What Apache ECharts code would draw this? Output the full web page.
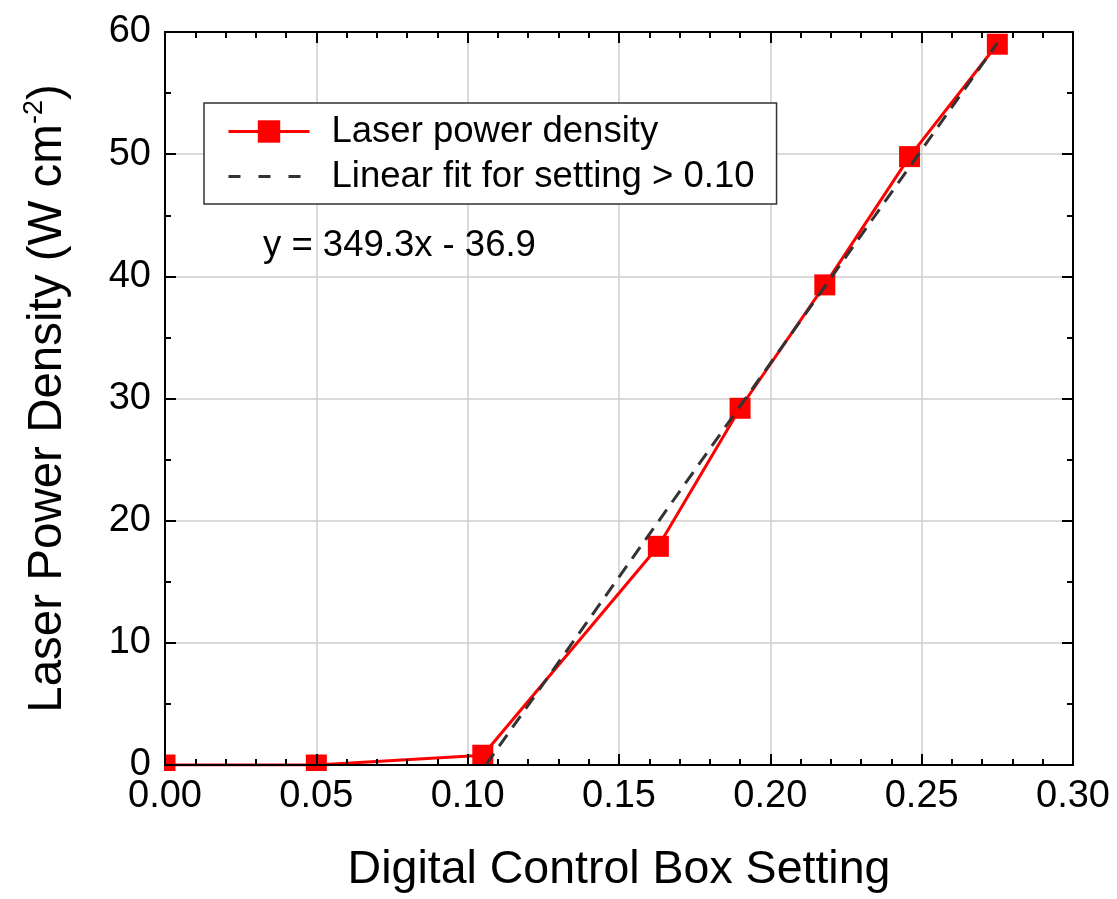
<!DOCTYPE html>
<html>
<head>
<meta charset="utf-8">
<script src="https://cdn.jsdelivr.net/npm/echarts@6/dist/echarts.min.js"></script>
<style>
html,body{margin:0;padding:0;background:#fff;}
#chart{width:1117px;height:899px;}
</style>
</head>
<body>
<div id="chart"></div>
<script>
// ---- data ----
const settingX = [0.000, 0.050, 0.105, 0.163, 0.190, 0.218, 0.246, 0.275];
const powerY   = [0.0,   0.0,   0.8,   17.9,  29.2,  39.3,  49.8,  59.0];
const fitX = [0.106, 0.275];
const fitY = [0.0, 59.1];
const xTicks = { min: 0, max: 0.30, interval: 0.05 };
const yTicks = { min: 0, max: 60, interval: 10 };
const seriesNames = ['Laser power density', 'Linear fit for setting > 0.10'];
const equationText = 'y = 349.3x - 36.9';

const FONT = '"Liberation Sans", Arial, sans-serif';
const chart = echarts.init(document.getElementById('chart'), null, { renderer: 'canvas' });

const tickCommon = {
  axisTick: { show: true, inside: true, length: 11, lineStyle: { color: '#000', width: 2 } },
  minorTick: { show: true, length: 6, lineStyle: { color: '#000', width: 2 } },
  axisLine: { show: true, onZero: false, lineStyle: { color: '#000', width: 2 } }
};

const option = {
  animation: false,
  backgroundColor: '#fff',
  grid: { left: 165, right: 44, top: 32, bottom: 130, containLabel: false },
  xAxis: [
    Object.assign({
      type: 'value', position: 'bottom', z: 10,
      min: xTicks.min, max: xTicks.max, interval: xTicks.interval,
      name: 'Digital Control Box Setting', nameLocation: 'middle', nameGap: 82,
      nameTextStyle: { fontFamily: FONT, fontSize: 46.5, color: '#000' },
      axisLabel: { fontFamily: FONT, fontSize: 38, color: '#000', margin: 13,
        formatter: v => v.toFixed(2) },
      splitLine: { show: false }
    }, tickCommon, { minorTick: Object.assign({}, tickCommon.minorTick, { splitNumber: 5 }) }),
    Object.assign({
      type: 'value', position: 'top',
      min: xTicks.min, max: xTicks.max, interval: xTicks.interval,
      axisLabel: { show: false },
      splitLine: { show: true, lineStyle: { color: '#cfcfcf', width: 1.5 } }
    }, tickCommon, { minorTick: Object.assign({}, tickCommon.minorTick, { splitNumber: 5 }) })
  ],
  yAxis: [
    Object.assign({
      type: 'value', position: 'left', z: 10,
      min: yTicks.min, max: yTicks.max, interval: yTicks.interval,
      name: 'Laser Power Density (W cm{sup|-2})', nameLocation: 'middle', nameGap: 90,
      nameTextStyle: { fontFamily: FONT, fontSize: 47.5, color: '#000',
        rich: { sup: { fontFamily: FONT, fontSize: 27, color: '#000', verticalAlign: 'top', padding: [0, 0, 27, 0] } } },
      axisLabel: { fontFamily: FONT, fontSize: 38, color: '#000', margin: 14 },
      splitLine: { show: false }
    }, tickCommon, { minorTick: Object.assign({}, tickCommon.minorTick, { splitNumber: 2 }) }),
    Object.assign({
      type: 'value', position: 'right',
      min: yTicks.min, max: yTicks.max, interval: yTicks.interval,
      axisLabel: { show: false },
      splitLine: { show: true, lineStyle: { color: '#cfcfcf', width: 1.5 } }
    }, tickCommon, { minorTick: Object.assign({}, tickCommon.minorTick, { splitNumber: 2 }) })
  ],
  legend: {
    orient: 'vertical', left: 204, top: 103,
    padding: [10, 22, 9, 23], itemGap: 8,
    itemWidth: 81, itemHeight: 28,
    borderColor: '#333', borderWidth: 1.5, backgroundColor: '#fff',
    textStyle: { fontFamily: FONT, fontSize: 36.5, color: '#000', padding: [0, 0, 0, 17] },
    data: [
      { name: seriesNames[0], lineStyle: { width: 3 } },
      { name: seriesNames[1], itemStyle: { opacity: 0 }, lineStyle: { width: 3, type: [12, 18] } }
    ]
  },
  series: [
    {
      name: seriesNames[0], type: 'line', xAxisIndex: 0, yAxisIndex: 0,
      data: settingX.map((x, i) => [x, powerY[i]]),
      symbol: 'rect', symbolSize: 21, clip: true,
      itemStyle: { color: '#ff0000' },
      lineStyle: { color: '#ff0000', width: 3 },
      z: 3
    },
    {
      name: seriesNames[1], type: 'line', xAxisIndex: 0, yAxisIndex: 0,
      data: fitX.map((x, i) => [x, fitY[i]]),
      symbol: 'none', showSymbol: false,
      itemStyle: { color: '#333' },
      lineStyle: { color: '#333', width: 3, type: [14, 9] },
      z: 4
    }
  ],
  graphic: [
    { type: 'rect', z: 8, shape: { x: 120, y: 771, width: 400, height: 11 }, style: { fill: '#fff' }, silent: true },
    { type: 'rect', z: 8, shape: { x: 152, y: 750, width: 12, height: 30 }, style: { fill: '#fff' }, silent: true },
    { type: 'text', z: 8, left: 263, top: 227,
      style: { text: equationText, font: '36.5px "Liberation Sans", Arial, sans-serif', fill: '#000' } }
  ]
};
chart.setOption(option);
</script>
</body>
</html>
